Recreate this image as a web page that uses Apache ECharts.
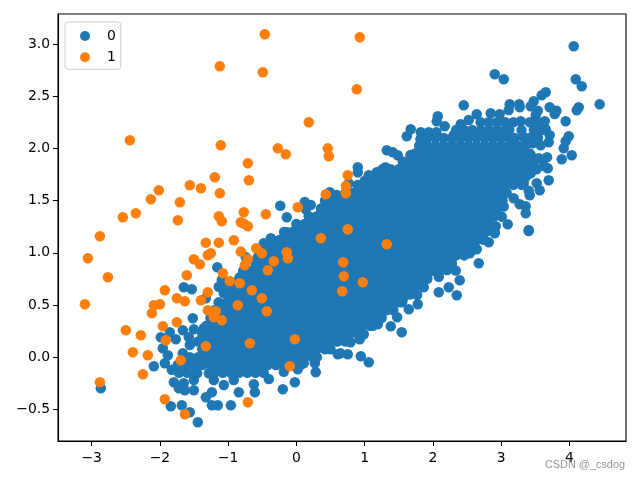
<!DOCTYPE html>
<html><head><meta charset="utf-8">
<style>html,body{margin:0;padding:0;background:#fff}#c{width:640px;height:480px}</style>
<script src="https://cdn.jsdelivr.net/npm/echarts@6/dist/echarts.min.js"></script>
</head><body><div id="c"></div>
<script>
const xTicks=[-3,-2,-1,0,1,2,3,4];
const yTicks=[-0.5,0,0.5,1,1.5,2,2.5,3];
const seriesNames=['0','1'];
const orangePoints=[[-0.463,3.093],[-1.122,2.786],[-0.492,2.729],[0.182,2.25],[-2.441,2.078],[-1.108,2.03],[-0.272,2.0],[-0.155,1.943],[0.46,2.0],[0.475,1.924],[-0.712,1.857],[-1.196,1.723],[-0.697,1.694],[-1.562,1.646],[-1.4,1.618],[-2.016,1.599],[-2.133,1.512],[-1.708,1.484],[-1.122,1.57],[0.431,1.56],[0.02,1.436],[-0.448,1.369],[-0.771,1.388],[-2.353,1.378],[-2.544,1.34],[-1.738,1.311],[-1.137,1.35],[-1.093,1.302],[-0.815,1.292],[-0.712,1.254],[-0.771,1.279],[-2.88,1.158],[0.358,1.139],[-1.327,1.097],[-1.137,1.097],[-0.917,1.12],[-0.589,1.043],[-0.815,1.011],[-0.507,0.995],[-0.141,1.005],[-0.126,0.947],[-1.254,0.995],[-1.298,0.976],[-1.503,0.938],[-1.415,0.89],[-0.712,0.938],[-0.756,0.88],[-0.331,0.919],[-0.419,0.832],[-3.056,0.947],[-2.763,0.765],[-1.078,0.804],[-1.606,0.784],[-0.976,0.73],[-0.829,0.708],[-1.928,0.641],[-1.298,0.622],[-0.653,0.641],[-1.752,0.564],[-1.635,0.535],[-1.4,0.545],[-0.507,0.564],[-2.089,0.497],[-2.001,0.507],[-0.859,0.497],[-3.1,0.507],[-2.118,0.42],[-1.298,0.449],[-1.181,0.44],[-0.434,0.44],[-1.21,0.382],[-1.093,0.353],[-1.752,0.334],[-1.958,0.296],[-1.914,0.162],[-2.5,0.258],[-2.28,0.21],[-1.327,0.104],[-0.683,0.133],[-0.023,0.171],[-2.397,0.047],[-2.177,0.018],[-1.694,-0.03],[-0.097,-0.087],[-2.25,-0.164],[-2.88,-0.24],[-1.928,-0.403],[-0.712,-0.432],[-1.635,-0.547],[0.753,1.225],[1.325,1.081],[0.686,0.909],[0.695,0.775],[0.973,0.717],[0.671,0.631],[0.929,3.064],[0.885,2.566],[0.753,1.742],[0.724,1.64],[0.724,1.57]];
// Blue points.
const blueOutline=[[-0.237,1.451],[-0.141,1.34],[0.123,1.487],[0.211,1.458],[0.138,1.417],[0.489,1.58],[0.592,1.553],[-0.141,1.196],[-0.375,1.139],[-0.478,1.091],[-0.272,1.11],[-1.16,0.861],[-0.741,0.957],[-0.566,0.957],[-0.829,0.765],[-1.093,0.739],[-1.137,0.675],[-1.064,0.612],[-0.903,0.602],[-1.65,0.67],[-1.533,0.65],[-1.327,0.564],[-1.518,0.373],[-1.664,0.258],[-1.855,0.238],[-1.987,0.19],[-1.767,0.171],[-1.958,0.085],[-1.884,0.018],[-1.928,-0.058],[-2.089,-0.087],[-1.826,-0.12],[-1.664,0.037],[-1.562,0.117],[-1.503,0.267],[-1.357,0.277],[-1.577,0.19],[-1.796,-0.24],[-1.723,-0.298],[-1.635,-0.317],[-1.503,-0.317],[-1.503,-0.218],[-1.65,-0.25],[-2.866,-0.298],[-1.84,-0.47],[-1.679,-0.461],[-1.562,-0.528],[-1.445,-0.624],[-1.327,-0.384],[-1.239,-0.336],[-1.239,-0.461],[-1.152,-0.461],[-0.961,-0.461],[-0.844,-0.336],[-0.609,-0.336],[-0.624,-0.26],[-0.404,-0.209],[-0.199,-0.307],[-0.023,-0.24],[0.02,-0.116],[0.284,-0.145],[0.27,-0.058],[0.607,0.028],[-1.064,-0.266],[-1.21,-0.218],[-0.918,-0.218],[-0.185,-0.139],[0.108,-0.058],[-1.283,-0.154],[-1.455,-0.154],[1.061,-0.049],[0.944,0.009],[0.753,0.028],[0.646,0.037],[1.544,0.239],[1.383,0.296],[1.193,0.315],[0.988,0.219],[0.929,0.171],[0.793,0.143],[1.477,0.382],[1.647,0.459],[1.779,0.507],[1.559,0.555],[2.087,0.622],[2.35,0.593],[2.233,0.67],[2.394,0.737],[2.336,0.829],[2.209,0.835],[2.087,0.771],[1.867,0.67],[1.77,0.596],[2.673,0.899],[2.541,0.995],[2.643,1.034],[2.819,1.1],[2.907,1.187],[3.405,1.209],[2.673,1.139],[4.065,2.978],[4.094,2.662],[4.182,2.595],[4.445,2.422],[2.907,2.71],[3.039,2.662],[2.453,2.413],[3.654,2.537],[3.596,2.509],[3.478,2.451],[3.434,2.403],[3.127,2.422],[3.265,2.422],[3.273,2.394],[3.112,2.368],[3.537,2.361],[3.508,2.319],[3.713,2.394],[3.811,2.361],[3.786,2.329],[4.138,2.394],[4.109,2.365],[3.947,2.259],[3.64,2.259],[3.992,2.116],[3.947,2.068],[3.918,2.0],[4.035,1.934],[3.889,1.896],[3.713,2.125],[3.698,2.058],[3.581,2.029],[3.464,2.048],[3.332,2.106],[3.654,2.183],[3.674,1.915],[3.684,1.809],[3.625,1.831],[3.698,1.694],[3.566,1.599],[3.522,1.666],[3.42,1.551],[3.405,1.595],[3.434,1.761],[3.434,1.937],[3.552,1.905],[3.332,1.666],[3.185,1.522],[3.361,1.445],[3.361,1.378],[3.273,1.465],[3.039,1.442],[3.01,1.346],[3.097,1.273],[2.922,1.254],[2.907,1.196],[3.405,1.218],[2.746,1.283],[2.072,2.307],[2.057,2.259],[2.174,2.212],[2.409,2.231],[2.526,2.272],[2.643,2.327],[2.848,2.336],[2.98,2.327],[3.288,2.259],[1.676,2.183],[1.618,2.116],[1.823,2.154],[1.94,2.154],[2.053,2.154],[2.306,2.128],[1.818,2.087],[1.94,2.0],[1.325,1.982],[1.413,1.963],[1.486,1.934],[0.9,1.819],[0.9,1.771],[1.061,1.742],[1.178,1.771],[1.305,1.819],[0.768,1.666],[1.672,1.937],[1.818,2.016]];
// Inside the solid blue area single points cannot be told apart. These are
// estimated positions chosen to cover that area; each row is [y, x, x, ...].
const blueInteriorRows=[
[-0.15,-1.72,-1.6,-1.48,-1.2,-1.08,-.96,-.84,-.72,-.6,-.48],
[-0.075,-1.74,-1.62,-1.5,-1.38,-1.26,-1.14,-1.02,-.9,-.78,-.66,-.54,-.42,-.3,-.18,-.06,.06],
[0,-1.56,-1.44,-1.32,-1.2,-1.08,-.96,-.84,-.72,-.6,-.48,-.36,-.24,-.12,0,.12,.24,.3],
[0.075,-1.38,-1.26,-1.14,-1.02,-.9,-.78,-.66,-.54,-.42,-.3,-.18,-.06,.06,.18,.3,.42,.5],
[0.15,-1.44,-1.32,-1.2,-1.08,-.96,-.84,-.72,-.6,-.48,-.36,-.24,-.12,0,.12,.24,.36,.48,.6,.72],
[0.225,-1.38,-1.26,-1.14,-1.02,-.9,-.78,-.66,-.54,-.42,-.3,-.18,-.06,.06,.18,.3,.42,.54,.66,.78,.9],
[0.3,-1.32,-1.2,-1.08,-.96,-.84,-.72,-.6,-.48,-.36,-.24,-.12,0,.12,.24,.36,.48,.6,.72,.84,.96,1.08,1.12],
[0.3375,-1.1,-.95,-.8,-.65,-.5,-.35,-.2,-.05,.1,.25,.4,.55,.7,.85,1,1.15],
[0.375,-1.26,-1.14,-1.02,-.9,-.78,-.66,-.54,-.42,-.3,-.18,-.06,.06,.18,.3,.42,.54,.66,.78,.9,1.02,1.14,1.25],
[0.45,-1.2,-1.08,-.96,-.84,-.72,-.6,-.48,-.36,-.24,-.12,0,.12,.24,.36,.48,.6,.72,.84,.96,1.08,1.2,1.32,1.42],
[0.525,-1.14,-1.02,-.9,-.78,-.66,-.54,-.42,-.3,-.18,-.06,.06,.18,.3,.42,.54,.66,.78,.9,1.02,1.14,1.26,1.38,1.5,1.55],
[0.6,-.96,-.84,-.72,-.6,-.48,-.36,-.24,-.12,0,.12,.24,.36,.48,.6,.72,.84,.96,1.08,1.2,1.32,1.44,1.56,1.66],
[0.675,-1.02,-.9,-.78,-.66,-.54,-.42,-.3,-.18,-.06,.06,.18,.3,.42,.54,.66,.78,.9,1.02,1.14,1.26,1.38,1.5,1.62,1.74],
[0.75,-.84,-.72,-.6,-.48,-.36,-.24,-.12,0,.12,.24,.36,.48,.6,.72,.84,.96,1.08,1.2,1.32,1.44,1.56,1.68,1.8,1.92],
[0.825,-.78,-.66,-.54,-.42,-.3,-.18,-.06,.06,.18,.3,.42,.54,.66,.78,.9,1.02,1.14,1.26,1.38,1.5,1.62,1.74,1.86,1.98,2.1],
[0.9,-.6,-.48,-.36,-.24,-.12,0,.12,.24,.36,.48,.6,.72,.84,.96,1.08,1.2,1.32,1.44,1.56,1.68,1.8,1.92,2.04,2.16,2.28],
[0.975,-.54,-.42,-.3,-.18,-.06,.06,.18,.3,.42,.54,.66,.78,.9,1.02,1.14,1.26,1.38,1.5,1.62,1.74,1.86,1.98,2.1,2.22,2.34,2.46],
[1.0125,-.48,-.36,-.24,-.12,0,.12,.24,.36,.48,.6,.72,.84,.96,1.08,1.2,1.32,1.44,1.56,1.68,1.8,1.92,2.04,2.16,2.28,2.4,2.52],
[1.05,-.42,-.3,-.18,-.06,.06,.18,.3,.42,.54,.66,.78,.9,1.02,1.14,1.26,1.38,1.5,1.62,1.74,1.86,1.98,2.1,2.22,2.34,2.46,2.58,2.62],
[1.125,-.36,-.24,-.12,0,.12,.24,.36,.48,.6,.72,.84,.96,1.08,1.2,1.32,1.44,1.56,1.68,1.8,1.92,2.04,2.16,2.28,2.4,2.52,2.64,2.74],
[1.2,-.18,-.06,.06,.18,.3,.42,.54,.66,.78,.9,1.02,1.14,1.26,1.38,1.5,1.62,1.74,1.86,1.98,2.1,2.22,2.34,2.46,2.58,2.7,2.78],
[1.275,0,.12,.24,.36,.48,.6,.72,.84,.96,1.08,1.2,1.32,1.44,1.56,1.68,1.8,1.92,2.04,2.16,2.28,2.4,2.52,2.64,2.76,2.82],
[1.35,.18,.3,.42,.54,.66,.78,.9,1.02,1.14,1.26,1.38,1.5,1.62,1.74,1.86,1.98,2.1,2.22,2.34,2.46,2.58,2.7,2.82,2.9],
[1.425,.36,.48,.6,.72,.84,.96,1.08,1.2,1.32,1.44,1.56,1.68,1.8,1.92,2.04,2.16,2.28,2.4,2.52,2.64,2.76,2.88,2.94],
[1.5,.42,.54,.66,.78,.9,1.02,1.14,1.26,1.38,1.5,1.62,1.74,1.86,1.98,2.1,2.22,2.34,2.46,2.58,2.7,2.82,2.94,3.02],
[1.575,.72,.84,.96,1.08,1.2,1.32,1.44,1.56,1.68,1.8,1.92,2.04,2.16,2.28,2.4,2.52,2.64,2.76,2.88,3,3.08],
[1.65,.9,1.02,1.14,1.26,1.38,1.5,1.62,1.74,1.86,1.98,2.1,2.22,2.34,2.46,2.58,2.7,2.82,2.94,3.06,3.18,3.3],
[1.6875,1,1.15,1.3,1.45,1.6,1.75,1.9,2.05,2.2,2.35,2.5,2.65,2.8,2.95,3.1,3.25],
[1.725,1.08,1.2,1.32,1.44,1.56,1.68,1.8,1.92,2.04,2.16,2.28,2.4,2.52,2.64,2.76,2.88,3,3.12,3.24,3.36],
[1.8,1.26,1.38,1.5,1.62,1.74,1.86,1.98,2.1,2.22,2.34,2.46,2.58,2.7,2.82,2.94,3.06,3.18,3.3,3.42,3.52],
[1.875,1.56,1.68,1.8,1.92,2.04,2.16,2.28,2.4,2.52,2.64,2.76,2.88,3,3.12,3.24,3.36,3.48],
[1.95,1.74,1.86,1.98,2.1,2.22,2.34,2.46,2.58,2.7,2.82,2.94,3.06,3.18,3.3,3.42],
[2.025,1.8,1.92,2.04,2.16,2.28,2.4,2.52,2.64,2.76,2.88,3,3.12,3.24,3.35],
[2.1,1.92,2.04,2.16,2.28,2.4,2.52,2.64,2.76,2.88,3,3.12,3.2,3.42,3.54],
[2.175,2.34,2.46,2.58,2.7,2.82,2.94,3.06,3.12,3.3,3.48,3.6],
[2.25,2.7,2.82,2.94,3.06,3.18,3.42,3.54]
];
const blueInterior=blueInteriorRows.flatMap(r=>r.slice(1).map(x=>[x,r[0]]));
const bluePoints=blueOutline.concat(blueInterior);

const font='"DejaVu Sans"';
const chart=echarts.init(document.getElementById('c'),null,{renderer:'canvas',width:640,height:480});
const axisCommon={
  type:'value',splitLine:{show:false},
  axisLine:{show:true,onZero:false,lineStyle:{color:'#000',width:1.1}},
  axisTick:{show:true,length:5,lineStyle:{color:'#000',width:1}},
};
chart.setOption({
  animation:false,backgroundColor:'#fff',
  grid:{show:true,left:58,right:14,top:14,bottom:39,borderColor:'#000',borderWidth:1.1,backgroundColor:'#fff'},
  xAxis:{...axisCommon,min:-3.494,max:4.831,
    axisTick:{...axisCommon.axisTick,customValues:xTicks},
    axisLabel:{customValues:xTicks,margin:10,color:'#000',fontFamily:font,fontSize:13.9,formatter:v=>String(v).replace('-','\u2212')}},
  yAxis:{...axisCommon,min:-0.803,max:3.287,
    axisTick:{...axisCommon.axisTick,customValues:yTicks},
    axisLabel:{customValues:yTicks,margin:8,color:'#000',fontFamily:font,fontSize:13.9,formatter:v=>v.toFixed(1).replace('-','\u2212')}},
  legend:{show:true,data:seriesNames.map(n=>({name:n,icon:'circle'})),orient:'vertical',left:65,top:22,align:'left',
    itemWidth:10,itemHeight:10.4,itemGap:7.3,padding:[7,5,5,15],
    backgroundColor:'rgba(255,255,255,0.8)',borderColor:'#ccc',borderWidth:1,borderRadius:3,
    textStyle:{color:'#000',fontFamily:font,fontSize:13.9,padding:[0,0,0,12]}},
  graphic:[{type:'text',right:15,top:459,z:100,silent:true,style:{text:'CSDN @_csdog',fill:'rgba(120,120,120,0.8)',font:'10.9px "Liberation Sans"'}}],
  series:[
    {name:seriesNames[0],type:'scatter',data:bluePoints,symbolSize:10.5,itemStyle:{color:'#1f77b4',opacity:1},progressive:0,z:2},
    {name:seriesNames[1],type:'scatter',data:orangePoints,symbolSize:10.5,itemStyle:{color:'#ff7f0e',opacity:1},progressive:0,z:3}
  ]
});
</script></body></html>
